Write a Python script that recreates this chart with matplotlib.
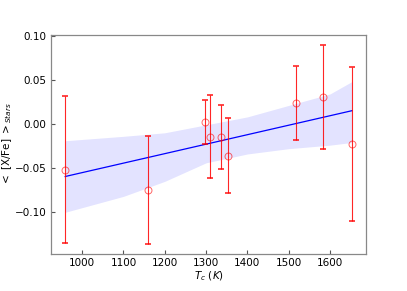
import matplotlib
matplotlib.use("Agg")
import matplotlib.pyplot as plt
import numpy as np

# condensation temperature (K), mean abundance and error
tc = [959, 1159, 1297, 1310, 1337, 1354, 1517, 1582, 1653]
xfe = [-0.0516, -0.075, 0.0023, -0.0143, -0.015, -0.0358, 0.0234, 0.0305, -0.0226]
err = [0.083, 0.061, 0.025, 0.047, 0.036, 0.042, 0.042, 0.059, 0.087]

# linear fit end points
fit_x = [959, 1653]
fit_y = [-0.0595, 0.0150]

# confidence band
band_x = [959, 1100, 1200, 1300, 1400, 1500, 1600, 1653]
band_hi = [-0.019, -0.014, -0.010, -0.001, 0.008, 0.021, 0.034, 0.048]
band_lo = [-0.100, -0.082, -0.065, -0.044, -0.034, -0.028, -0.024, -0.021]

plt.rcParams['font.size'] = 7.5
fig = plt.figure(figsize=(4.07, 2.91), dpi=100)
ax = fig.add_axes([0.125, 0.127, 0.775, 0.753])

ax.fill_between(band_x, band_lo, band_hi, color='blue', alpha=0.11, linewidth=0)
ax.plot(fit_x, fit_y, color='blue', lw=0.9)
ax.errorbar(tc, xfe, yerr=err, fmt='none', ecolor='red',
            elinewidth=0.8, capsize=2, capthick=1.2, alpha=0.85)
ax.plot(tc, xfe, 'o', mfc='none', mec='red', ms=5, mew=0.7, alpha=0.6)

ax.set_xticks([1000, 1100, 1200, 1300, 1400, 1500, 1600])
ax.set_yticks([-0.10, -0.05, 0.00, 0.05, 0.10])
ax.tick_params(direction='in', length=3, width=0.8, color='#555555', pad=3)
for s in ax.spines.values():
    s.set_color('#888888')
    s.set_linewidth(0.9)

ax.set_xlabel(r'$T_c\ (K)$', labelpad=1)
ax.set_ylabel(r'$<$ [X/Fe] $>_{Stars}$', labelpad=1)

fig.savefig('out.png', dpi=100)
